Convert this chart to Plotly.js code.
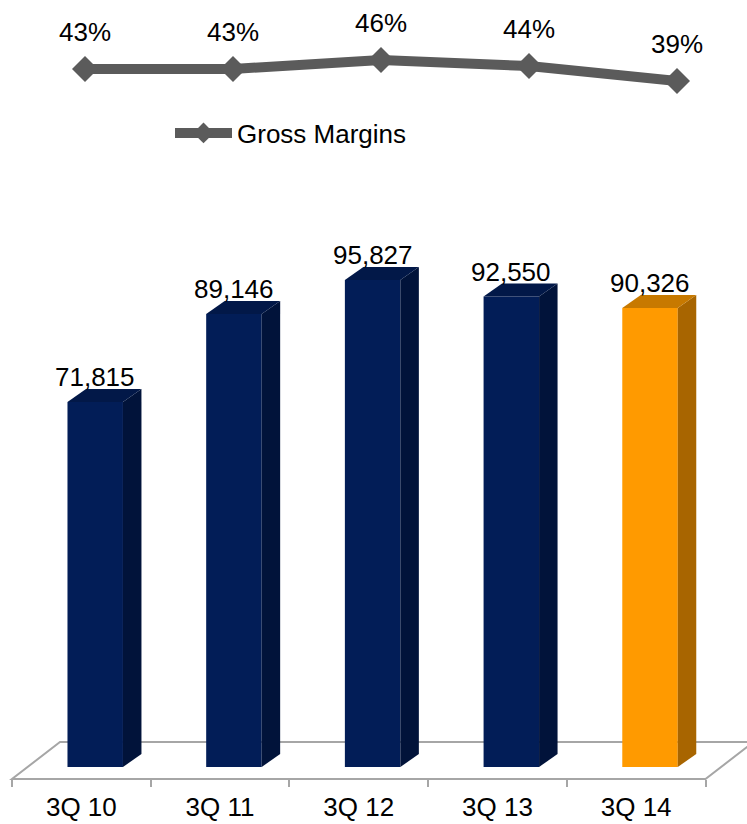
<!DOCTYPE html>
<html>
<head>
<meta charset="utf-8">
<script src="https://cdn.plot.ly/plotly-3.0.1.min.js"></script>
<style>html,body{margin:0;padding:0;background:#fff;}#chart{width:747px;height:824px;}</style>
</head>
<body>
<div id="chart"></div>
<script>
// ---- data ----
const categories = ['3Q 10', '3Q 11', '3Q 12', '3Q 13', '3Q 14'];
const revenue = [71815, 89146, 95827, 92550, 90326];
const grossMargin = [43, 43, 46, 44, 39];
const revenueLabels = ['71,815', '89,146', '95,827', '92,550', '90,326'];
const marginLabels = ['43%', '43%', '46%', '44%', '39%'];

// ---- style ----
const W = 747, H = 824;
const FONT = 'Liberation Sans, Arial, sans-serif';
const FS = 26;
const frontCol = ['#021D57', '#021D57', '#021D57', '#021D57', '#FF9A00'];
const sideCol  = ['#01133A', '#01133A', '#01133A', '#01133A', '#A86500'];
const topCol   = ['#021848', '#021848', '#021848', '#021848', '#C77900'];

// bar-axis geometry (pixels)
const slotPx = 138.7, slotLeftPx = 12;         // x: slot -0.5 at px 12
const basePx = 767, pxPerUnit = 0.0050825;     // y: 0 at px 767
const splitPx = 160;                            // top of bar area
const xRange = [-0.5 - slotLeftPx / slotPx, -0.5 + (W - slotLeftPx) / slotPx];
const yRange = [-(H - basePx) / pxPerUnit, (basePx - splitPx) / pxPerUnit];
const dx = 18.5 / slotPx, dy = 13 / pxPerUnit;  // 3D depth
const barOff = -0.10, barW = 0.40;

// line-axis geometry
const x2Range = [-85 / 148, (W - 85) / 148];
const y2Range = [43 - (splitPx - 69) / 3, 43 + 69 / 3];

const idx = categories.map((c, i) => i);
const traces = [];

traces.push({
  type: 'bar', x: idx, y: revenue, xaxis: 'x', yaxis: 'y',
  width: barW, offset: barOff,
  marker: {color: frontCol, line: {width: 0}},
  hoverinfo: 'skip', showlegend: false
});

idx.forEach(i => {
  const v = revenue[i];
  const xl = i + barOff, xr = i + barOff + barW;
  traces.push({
    type: 'scatter', mode: 'lines', xaxis: 'x', yaxis: 'y',
    x: [xr, xr, xr + dx, xr + dx, xr],
    y: [0, v, v + dy, dy, 0],
    fill: 'toself', fillcolor: sideCol[i], line: {width: 0, color: sideCol[i]},
    hoverinfo: 'skip', showlegend: false
  });
  traces.push({
    type: 'scatter', mode: 'lines', xaxis: 'x', yaxis: 'y',
    x: [xl, xr, xr + dx, xl + dx, xl],
    y: [v, v, v + dy, v + dy, v],
    fill: 'toself', fillcolor: topCol[i], line: {width: 0, color: topCol[i]},
    hoverinfo: 'skip', showlegend: false
  });
});

traces.push({
  type: 'scatter', mode: 'lines+markers', name: 'Gross Margins',
  x: idx, y: grossMargin, xaxis: 'x2', yaxis: 'y2',
  line: {color: '#5B5B5B', width: 10},
  marker: {symbol: 'diamond', size: 20, color: '#5B5B5B'},
  hoverinfo: 'skip', showlegend: true
});

const annotations = [];
idx.forEach(i => {
  annotations.push({
    x: i + barOff + barW / 2, y: revenue[i], xref: 'x', yref: 'y',
    text: revenueLabels[i], showarrow: false, yanchor: 'middle', yshift: 25,
    font: {family: FONT, size: FS, color: '#000'}
  });
  annotations.push({
    x: i, y: grossMargin[i], xref: 'x2', yref: 'y2',
    text: marginLabels[i], showarrow: false, yanchor: 'middle', yshift: 37,
    font: {family: FONT, size: FS, color: '#000'}
  });
});

const frontY = -(779 - basePx) / pxPerUnit;
const backY = (basePx - 742) / pxPerUnit;
const backShift = 48 / slotPx;
const floorPath = 'M' + (-0.5) + ',' + frontY + ' L' + 4.5 + ',' + frontY +
  ' L' + (4.5 + backShift) + ',' + backY + ' L' + (-0.5 + backShift) + ',' + backY + ' Z';

const layout = {
  width: W, height: H,
  margin: {l: 0, r: 0, t: 0, b: 0},
  paper_bgcolor: '#fff', plot_bgcolor: 'rgba(0,0,0,0)',
  font: {family: FONT, size: FS, color: '#000'},
  showlegend: true,
  legend: {
    x: 170 / W, xanchor: 'left', y: 1 - 133 / H, yanchor: 'middle',
    itemwidth: 57, font: {family: FONT, size: FS, color: '#000'},
    bgcolor: 'rgba(0,0,0,0)', borderwidth: 0
  },
  xaxis: {
    domain: [0, 1], range: xRange, anchor: 'free', position: (H - 779) / H,
    tickmode: 'array', tickvals: idx, ticktext: categories, ticks: '',
    ticklabelstandoff: 10,
    minor: {tickmode: 'array', tickvals: [-0.5, 0.5, 1.5, 2.5, 3.5, 4.5],
            ticks: 'outside', ticklen: 7, tickwidth: 2, tickcolor: '#A6A6A6'},
    showline: false, showgrid: false, zeroline: false, fixedrange: true,
    tickfont: {family: FONT, size: FS, color: '#000'}
  },
  yaxis: {
    domain: [0, 1 - splitPx / H], range: yRange, visible: false, fixedrange: true
  },
  xaxis2: {
    domain: [0, 1], range: x2Range, anchor: 'y2', visible: false, fixedrange: true
  },
  yaxis2: {
    domain: [1 - splitPx / H, 1], range: y2Range, anchor: 'x2', visible: false, fixedrange: true
  },
  shapes: [{
    type: 'path', xref: 'x', yref: 'y', path: floorPath, layer: 'below',
    line: {color: '#A6A6A6', width: 2}, fillcolor: 'rgba(0,0,0,0)'
  }],
  annotations: annotations
};

Plotly.newPlot('chart', traces, layout, {displayModeBar: false, staticPlot: true});
</script>
</body>
</html>
